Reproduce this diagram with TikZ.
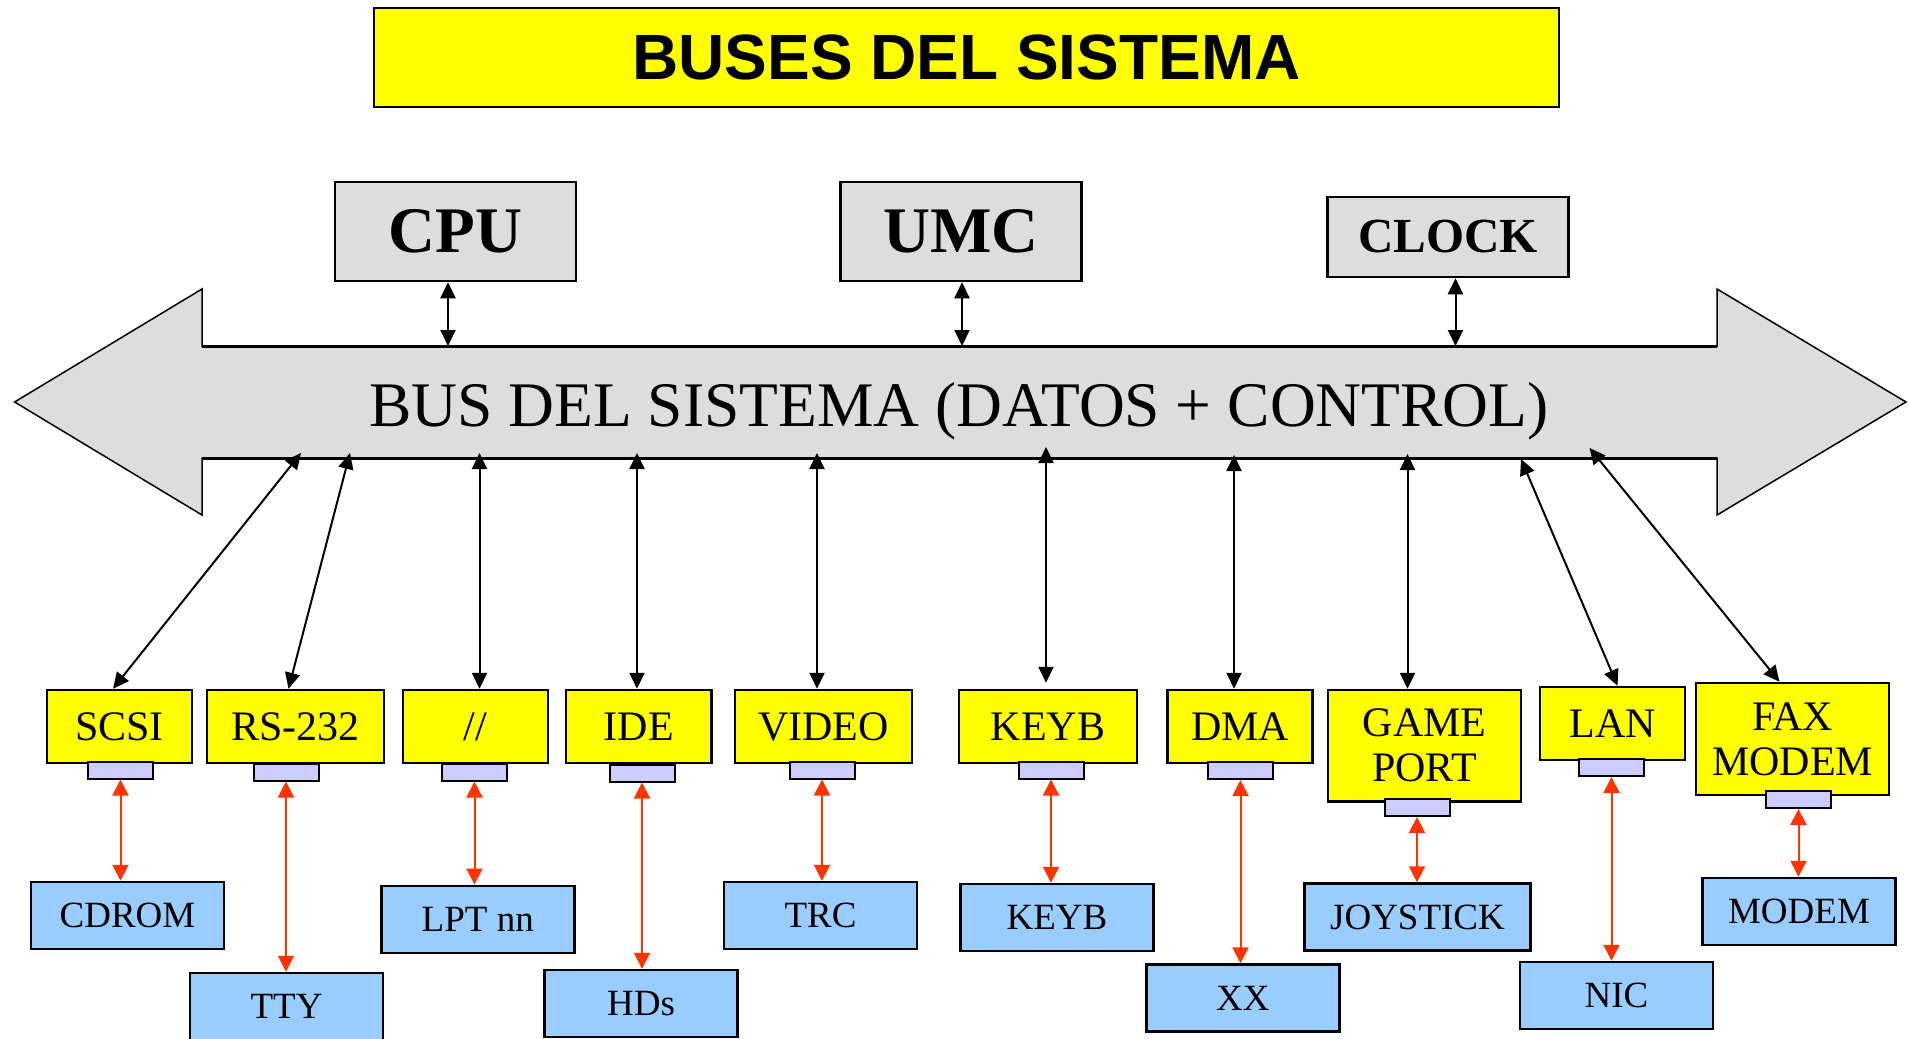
\documentclass[tikz,border=0pt]{standalone}
\usepackage{fontspec}
\setmainfont{Liberation Serif}
\newfontfamily\titlefont{Liberation Sans}
\usetikzlibrary{arrows.meta}
\definecolor{busgray}{HTML}{DDDDDD}
\definecolor{boxyellow}{RGB}{255,255,0}
\definecolor{portblue}{HTML}{CCCCFF}
\definecolor{devblue}{HTML}{99CCFF}
\definecolor{linkred}{HTML}{FF3300}
\begin{document}
\begin{tikzpicture}[
		x=1pt, y=-1pt,
		every node/.style={
				draw,
				inner sep=0pt,
				align=center,
				line width=2.5pt
			},
		unit/.style={
				fill=busgray,
				minimum width=241pt,
				minimum height=99pt,
				font=\fontsize{65}{70}\selectfont\bfseries
			},
		ctrl/.style={
				fill=boxyellow,
				minimum width=145pt,
				minimum height=73pt,
				font=\fontsize{42}{45}\selectfont
			},
		port/.style={
				fill=portblue,
				minimum width=65pt,
				minimum height=17pt,
				line width=2pt
			},
		dev/.style={
				fill=devblue,
				minimum width=193pt,
				minimum height=67pt,
				font=\fontsize{37}{40}\selectfont
			},
		buslink/.style={
				{Triangle[length=16pt,width=15pt]}-{Triangle[length=16pt,width=15pt]},
				line width=2pt
			},
		devlink/.style={
				{Triangle[length=16pt,width=16pt]}-{Triangle[length=16pt,width=16pt]},
				line width=2pt,
				draw=linkred
			}
	]
	\useasboundingbox (0,0) rectangle (1910,1038);
	\node[fill=boxyellow, minimum width=1185pt, minimum height=99pt,
		font=\titlefont\fontsize{64}{70}\selectfont\bfseries] (title) at (966.5,57.5) {BUSES DEL SISTEMA};

	\node[unit] (cpu) at (455.5,231.5) {CPU};
	\node[unit] (umc) at (960.75,231.5) {UMC};
	\node[unit, minimum height=80pt, font=\fontsize{49}{54}\selectfont\bfseries] (clock) at (1448,237) {CLOCK};

	\draw[fill=busgray, line width=1.5pt] (14.6,402) -- (202,289) -- (202,346) -- (1717,346) -- (1717,289)
		-- (1906,402) -- (1717,515) -- (1717,458) -- (202,458) -- (202,515) -- cycle;
	\draw[line width=3pt] (202,346) -- (1717,346) (202,458) -- (1717,458);
	\node[draw=none, anchor=base, font=\fontsize{63.5}{68}\selectfont] (bus) at (959,426)
		{BUS DEL SISTEMA (DATOS + CONTROL)};

	\coordinate (bcpu) at (448,346);
	\coordinate (bumc) at (962,346);
	\coordinate (bclock) at (1455.5,346);
	\draw[buslink] (cpu.south -| bcpu) -- (bcpu);
	\draw[buslink] (umc.south -| bumc) -- (bumc);
	\draw[buslink] (clock.south -| bclock) -- (bclock);

	\node[ctrl] (scsi) at (119.5,726.5) {SCSI};
	\node[ctrl, minimum width=177pt] (rs) at (295.5,726.5) {RS-232};
	\node[ctrl] (par) at (475.5,726.5) {//};
	\node[ctrl, minimum width=145.5pt] (ide) at (638.75,726.5) {IDE};
	\node[ctrl, minimum width=177pt] (video) at (823.5,726.5) {VIDEO};
	\node[ctrl, minimum width=178pt] (keyb) at (1048,726.5) {KEYB};
	\node[ctrl] (dma) at (1240,726.5) {DMA};
	\node[ctrl, minimum width=193pt, minimum height=111.5pt] (game) at (1424.5,745.75) {GAME\\PORT};
	\node[ctrl] (lan) at (1612.5,723.5) {LAN};
	\node[ctrl, minimum width=193pt, minimum height=112pt] (fax) at (1792.5,739) {FAX\\MODEM};

	\node[port] (pscsi) at (120.5,770) {};
	\node[port] (prs) at (286,772) {};
	\node[port] (ppar) at (474.5,772) {};
	\node[port] (pide) at (642,773) {};
	\node[port] (pvideo) at (822,770) {};
	\node[port] (pkeyb) at (1051,770) {};
	\node[port] (pdma) at (1240.5,770.5) {};
	\node[port] (pgame) at (1417,807.5) {};
	\node[port] (plan) at (1611.5,767.5) {};
	\node[port] (pfax) at (1798.5,799.5) {};

	\node[dev] (cdrom) at (127.5,915.5) {CDROM};
	\node[dev] (tty) at (286.5,1006.5) {TTY};
	\node[dev] (lpt) at (477.75,919.25) {LPT nn};
	\node[dev] (hds) at (641,1003.5) {HDs};
	\node[dev] (trc) at (820.5,915.5) {TRC};
	\node[dev] (kbd) at (1057,917.5) {KEYB};
	\node[dev] (xx) at (1242.75,998) {XX};
	\node[dev, minimum width=226pt] (joy) at (1417.5,917) {JOYSTICK};
	\node[dev] (nic) at (1616.5,995.5) {NIC};
	\node[dev] (modem) at (1799,911.5) {MODEM};

	\coordinate (bscsi) at (301,453);
	\coordinate (brs) at (350,453);
	\coordinate (bpar) at (479.5,453);
	\coordinate (bide) at (637,453);
	\coordinate (bvideo) at (817,453);
	\coordinate (bkeyb) at (1046,447);
	\coordinate (bdma) at (1234,455);
	\coordinate (bgame) at (1407.5,454);
	\coordinate (blan) at (1521,459);
	\coordinate (bfax) at (1589.5,448);
	\draw[buslink] (bscsi) -- ([xshift=-6.5pt]scsi.north);
	\draw[buslink] (brs) -- ([xshift=-7pt]rs.north);
	\draw[buslink] (bpar) -- (par.north -| bpar);
	\draw[buslink] (bide) -- (ide.north -| bide);
	\draw[buslink] (bvideo) -- (video.north -| bvideo);
	\draw[buslink] (bkeyb) -- ([yshift=6pt]keyb.north -| bkeyb);
	\draw[buslink] (bdma) -- (dma.north -| bdma);
	\draw[buslink] (bgame) -- (game.north -| bgame);
	\draw[buslink] (blan) -- ([xshift=5pt]lan.north);
	\draw[buslink] (bfax) -- ([xshift=-13pt]fax.north);

	\foreach \p/\d in {pscsi/cdrom, prs/tty, ppar/lpt, pide/hds, pvideo/trc,
			pkeyb/kbd, pdma/xx, pgame/joy, plan/nic, pfax/modem}
		\draw[devlink] (\p.south) -- (\p.south |- \d.north);
\end{tikzpicture}
\end{document}
